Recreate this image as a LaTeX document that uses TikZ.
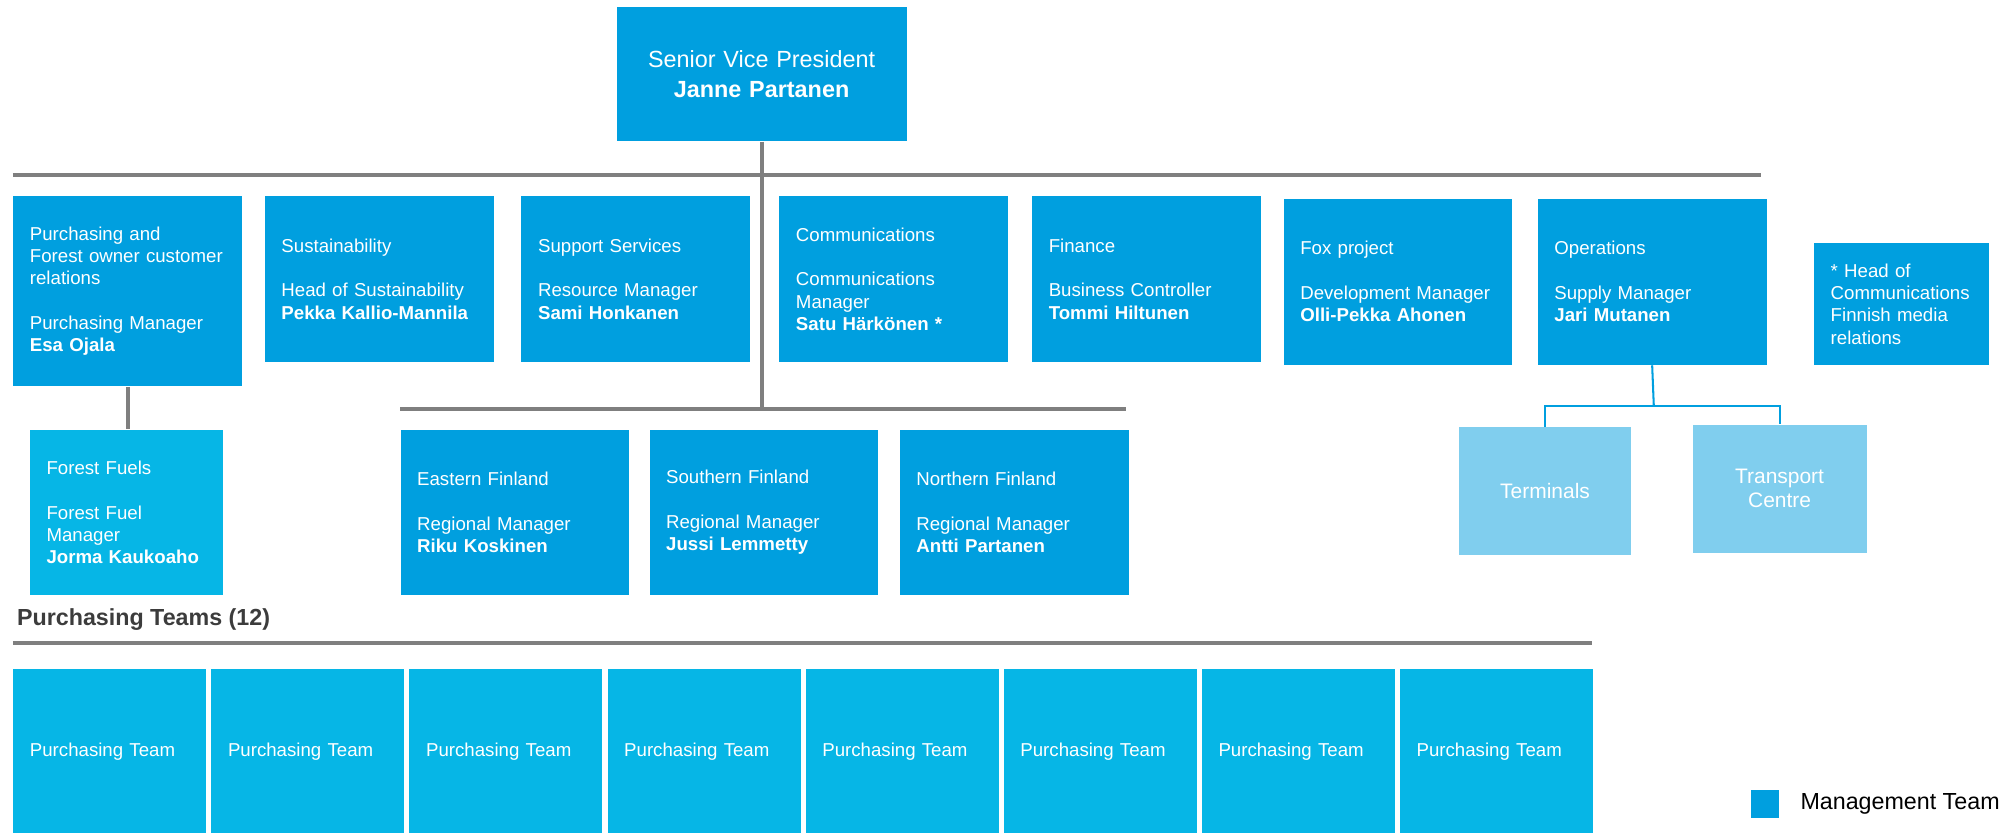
\documentclass[tikz,border=0pt]{standalone}
\usepackage{fontspec}
\setmainfont{Liberation Sans}
\usepackage{tikz}
\usetikzlibrary{matrix}
\usetikzlibrary{positioning}

\definecolor{mgmtblue}{HTML}{009FDF}
\definecolor{teamblue}{HTML}{06B6E6}
\definecolor{unitblue}{HTML}{80CEEE}
\definecolor{bargray}{HTML}{7F7F7F}
\definecolor{labgray}{HTML}{3C3C3C}

\begin{document}
\begin{tikzpicture}[x=0.5pt,y=-0.5pt,
    mgmt/.style={rectangle,fill=mgmtblue,text=white,align=left,anchor=north west,
      inner xsep=6.5pt,inner ysep=0pt,text width=76.5pt,minimum height=65pt,
      font=\fontsize{7.3}{8.7}\selectfont},
    team/.style={mgmt,fill=teamblue,text width=62.5pt},
    unit/.style={rectangle,fill=unitblue,text=white,align=center,anchor=north west,
      inner sep=0pt,minimum width=67.5pt,minimum height=50pt,
      font=\fontsize{8.2}{9.5}\selectfont},
    bar/.style={draw=bargray,line width=1.5pt},
    sub/.style={draw=mgmtblue,line width=0.8pt}]

  \useasboundingbox (0,0) rectangle (1568,651);

  \node [mgmt,align=center,inner sep=0pt,text width=113.5pt,minimum height=52.5pt,
    font=\fontsize{9.15}{11.5}\selectfont] (svp) at (482,5)
    {Senior Vice President\\\textbf{Janne Partanen}};

  \node [mgmt,minimum height=74.5pt] (purch) at (10,153)
    {Purchasing and\\Forest owner customer\\relations\\[8.7pt]Purchasing Manager\\\textbf{Esa Ojala}};
  \node [mgmt,right=8.5pt of purch.north east,anchor=north west] (sust)
    {Sustainability\\[8.7pt]Head of Sustainability\\\textbf{Pekka Kallio-Mannila}};
  \node [mgmt,right=10.5pt of sust.north east,anchor=north west] (supp)
    {Support Services\\[8.7pt]Resource Manager\\\textbf{Sami Honkanen}};
  \node [mgmt,right=11pt of supp.north east,anchor=north west] (comm)
    {Communications\\[8.7pt]Communications\\Manager\\\textbf{Satu Härkönen *}};
  \node [mgmt,right=9pt of comm.north east,anchor=north west] (fin)
    {Finance\\[8.7pt]Business Controller\\\textbf{Tommi Hiltunen}};
  \node [mgmt,anchor=north west] (fox) at (1004,155)
    {Fox project\\[8.7pt]Development Manager\\\textbf{Olli-Pekka Ahonen}};
  \node [mgmt,right=9.5pt of fox.north east,anchor=north west] (ops)
    {Operations\\[8.7pt]Supply Manager\\\textbf{Jari Mutanen}};
  \node [mgmt,text width=55.5pt,minimum height=47.5pt] (note) at (1419,190)
    {* Head of\\Communications\\Finnish media\\relations};

  \node [team,minimum height=64.5pt] (ff) at (23,336)
    {Forest Fuels\\[8.7pt]Forest Fuel\\Manager\\\textbf{Jorma Kaukoaho}};

  \node [mgmt,minimum height=64.5pt] (east) at (313,336)
    {Eastern Finland\\[8.7pt]Regional Manager\\\textbf{Riku Koskinen}};
  \node [mgmt,minimum height=64.5pt,right=7.5pt of east.north east,anchor=north west] (south)
    {Southern Finland\\[8.7pt]Regional Manager\\\textbf{Jussi Lemmetty}};
  \node [mgmt,minimum height=64.5pt,right=8pt of south.north east,anchor=north west] (north)
    {Northern Finland\\[8.7pt]Regional Manager\\\textbf{Antti Partanen}};

  \node [unit] (term) at (1141,334) {Terminals};
  \node [unit,minimum width=68pt] (trans) at (1324,332) {Transport\\Centre};

  \node [anchor=west,inner sep=0pt,text=labgray,font=\fontsize{9.1}{11}\selectfont\bfseries]
    (teamlab) at (13,485) {Purchasing Teams (12)};

  \matrix (teams) [matrix of nodes,anchor=north west,inner sep=0pt,column sep=2pt,
    nodes={team,minimum height=64pt},ampersand replacement=\&] at (10,523) {
    Purchasing Team \& Purchasing Team \& Purchasing Team \& Purchasing Team \&
    Purchasing Team \& Purchasing Team \& Purchasing Team \& Purchasing Team \\
  };

  \node [fill=mgmtblue,inner sep=0pt,minimum size=11pt] (legbox) at (1381,629) {};
  \node [right=8pt of legbox,inner sep=0pt,font=\fontsize{9.1}{11}\selectfont] (legtext)
    {Management Team};

  % bars
  \coordinate (topL) at (10,137);
  \coordinate (topR) at (1378,137);
  \coordinate (regL) at (313,320);
  \coordinate (regR) at (881,320);
  \coordinate (teamL) at (10,503);
  \coordinate (teamR) at (1246,503);
  \coordinate (opsbar) at (1294,318);

  \draw [bar] (topL) -- (topR);
  \draw [bar] (svp.south) -- (svp.south |- regL);
  \draw [bar] (regL) -- (regR);
  \draw [bar] (purch.south) -- (purch.south |- ff.north);
  \draw [bar] (teamL) -- (teamR);

  \draw [sub] (ops.south) -- (opsbar);
  \draw [sub] (term.north) |- (opsbar) -| (trans.north);

\end{tikzpicture}
\end{document}
